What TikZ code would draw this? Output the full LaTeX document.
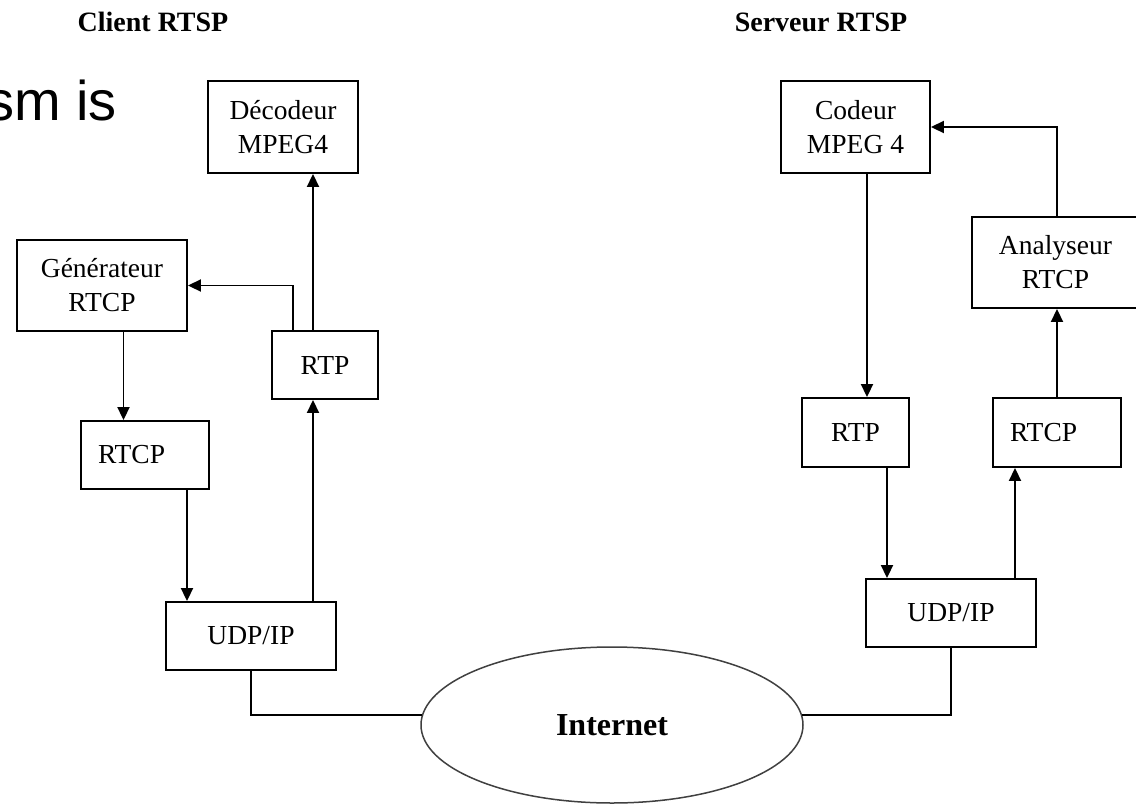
\documentclass[tikz,border=0pt]{standalone}
\usepackage{fontspec}
\setmainfont{Liberation Serif}
\newfontfamily\slidefont{Liberation Sans}
\usetikzlibrary{arrows.meta,shapes.geometric}
\tikzset{
  boxnode/.style={draw=black,line width=1.9pt,inner sep=0pt,align=center,
    font=\fontsize{27.5}{34}\selectfont},
  leftbox/.style={boxnode,align=left,text width=94pt,inner xsep=17pt},
  conn/.style={line width=1.9pt,draw=black},
  arr/.style={conn,-{Triangle[width=12pt,length=13pt]}},
  titletext/.style={font=\fontsize{28}{32}\selectfont\bfseries,inner sep=0pt,anchor=base},
}
\begin{document}
\begin{tikzpicture}[x=1pt,y=-1pt]
\useasboundingbox (0,0) rectangle (1136,804);
\fill[white] (0,0) rectangle (1136,804);
\clip (0,0) rectangle (1136,804);

% titles
\node[titletext] (tclient) at (153,31.5) {Client RTSP};
\node[titletext] (tserver) at (821,31.5) {Serveur RTSP};
\node[font=\fontsize{56}{60}\selectfont\slidefont,anchor=base east,inner sep=0pt] (slide) at (117,120) {sm is};

% client side
\node[boxnode,minimum width=150pt,minimum height=92pt] (dec) at (283,127) {Décodeur\\MPEG4};
\node[boxnode,minimum width=170pt,minimum height=91pt] (gen) at (102,285.5) {Générateur\\RTCP};
\node[boxnode,minimum width=106pt,minimum height=68pt] (rtpc) at (325,365) {RTP};
\node[leftbox,minimum height=68pt] (rtcpc) at (145,455) {RTCP};
\node[boxnode,minimum width=170pt,minimum height=68pt] (udpc) at (251,636) {UDP/IP};

% internet
\node[ellipse,draw=black!75,line width=1.5pt,minimum width=382pt,minimum height=156pt,inner sep=0pt,
  font=\fontsize{32}{36}\selectfont\bfseries] (inet) at (612,725) {Internet};

% server side
\node[boxnode,minimum width=149pt,minimum height=92pt] (cod) at (855.5,127) {Codeur\\MPEG 4};
\node[boxnode,minimum width=167pt,minimum height=91pt] (ana) at (1055.5,262.5) {Analyseur\\RTCP};
\node[boxnode,minimum width=107pt,minimum height=69pt] (rtps) at (855.5,432.5) {RTP};
\node[leftbox,minimum height=69pt] (rtcps) at (1057,432.5) {RTCP};
\node[boxnode,minimum width=170pt,minimum height=68pt] (udps) at (951,613) {UDP/IP};

% helper coordinates for offset connectors
\coordinate (c1) at ([xshift=-12pt]rtpc.south);
\coordinate (c1t) at ([xshift=-12pt]rtpc.north);
\coordinate (c2) at ([xshift=-32pt]rtpc.north);
\coordinate (c3) at ([xshift=21.5pt]gen.south);
\coordinate (c4) at ([xshift=42pt]rtcpc.south);
\coordinate (s1) at ([xshift=-42pt]rtcps.south);
\coordinate (s2) at ([xshift=31.5pt]rtps.south);
\coordinate (s3) at ([xshift=11.5pt]cod.south);

% client connectors
\draw[arr] (c1 |- udpc.north) -- (c1);
\draw[arr] (c1t) -- (c1t |- dec.south);
\draw[arr] (c2) |- (gen.east);
\draw[arr] (c3) -- (c3 |- rtcpc.north);
\draw[arr] (c4) -- (c4 |- udpc.north);
\draw[conn] (udpc.south) |- (inet.177);

% server connectors
\draw[conn] (inet.3) -| (udps.south);
\draw[arr] (s1 |- udps.north) -- (s1);
\draw[arr] (s2) -- (s2 |- udps.north);
\draw[arr] (s3) -- (s3 |- rtps.north);
\draw[arr] (rtcps.north) -- (rtcps.north |- ana.south);
\draw[arr] (ana.north -| rtcps.north) |- (cod.east);
\end{tikzpicture}
\end{document}
